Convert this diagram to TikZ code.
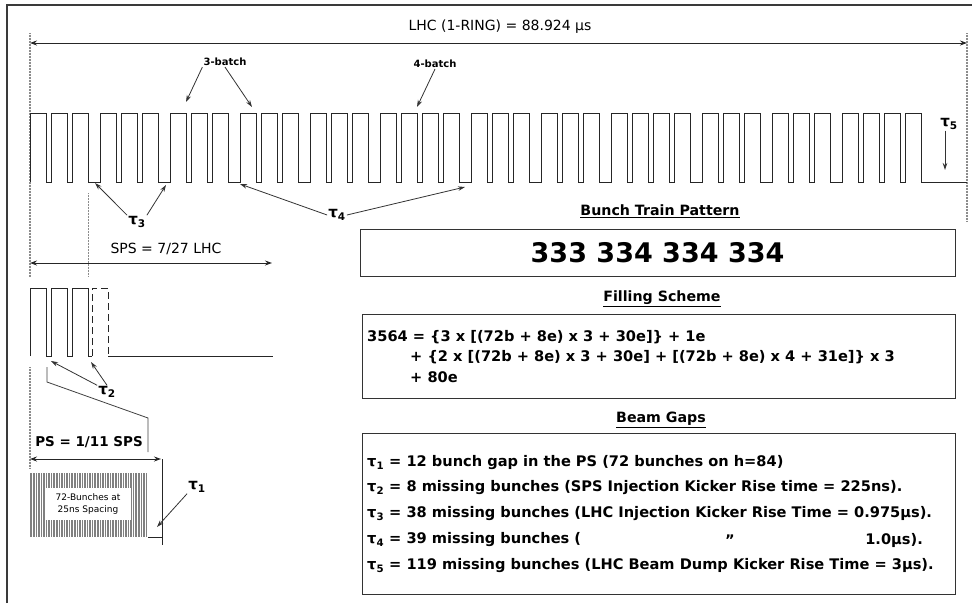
\documentclass[tikz,border=0pt]{standalone}
\usepackage{fontspec}
\setmainfont{DejaVu Sans}
\usepackage{tikz}
\usetikzlibrary{arrows.meta,positioning}
\definecolor{framegray}{HTML}{3A3A3A}
\definecolor{guidegray}{HTML}{8C8C8C}
\definecolor{bunchgray}{HTML}{808080}

\tikzset{
  pulse/.style={draw=black!85,line width=0.9pt},
  guide/.style={draw=guidegray,line width=1.3pt,dash pattern=on 1pt off 0.5pt},
  zoomline/.style={draw=black!75,line width=0.8pt},
  dimarrow/.style={draw=black!85,line width=0.9pt,
    {Stealth[length=7pt,width=5pt]}-{Stealth[length=7pt,width=5pt]}},
  callout/.style={draw=black!80,line width=0.8pt,-{Stealth[length=7pt,width=4.5pt]}},
  tag/.style={inner sep=1pt,font=\bfseries\fontsize{10}{12}\selectfont},
  taulabel/.style={inner sep=1pt,font=\bfseries\fontsize{15}{17}\selectfont},
  heading/.style={inner sep=1pt,font=\bfseries\fontsize{14.2}{16}\selectfont},
  infobox/.style={draw=black!80,line width=1pt},
  infotext/.style={anchor=west,inner sep=0pt,font=\bfseries\fontsize{14.6}{16}\selectfont},
}
\newcommand{\gap}[1]{τ\textsubscript{#1}}

\begin{document}
\begin{tikzpicture}[x=1pt,y=-1pt]
  \useasboundingbox (0,0) rectangle (972,603);
  \draw[framegray,line width=1.2pt] (7,603) -- (7,5) -- (972,5);

  % one LHC ring
  \coordinate (lhcL) at (30,43);
  \coordinate (lhcR) at (967,43);
  \node[font=\fontsize{14}{16}\selectfont] (lhc) at (500,27) {LHC (1-RING) = 88.924 µs};
  \draw[dimarrow] (lhcL) -- (lhcR);
  \draw[guide] (30,33) -- (30,277);
  \draw[guide] (967,33) -- (967,222);
  \draw[guide] (88.5,193) -- (88.5,277);

  % bunch trains, 333 334 334 334
  \draw[pulse] (30,182)
    foreach \x in {30,51,72,100,121,142,170,191,212,240,261,282,310,331,352,
                   380,401,422,443,471,492,513,541,562,583,611,632,653,674,
                   702,723,744,772,793,814,842,863,884,905}
    { -- (\x,182) -- (\x,113) -- ++(16.5,0) -- ++(0,69) } -- (967,182);

  \node[tag] (three) at (225,62) {3-batch};
  \node[tag] (four) at (435,64) {4-batch};
  \coordinate (threeA) at (186,102);
  \coordinate (threeB) at (252,107);
  \coordinate (fourA) at (417,107);
  \draw[callout] (three.south west) -- (threeA);
  \draw[callout] (three.south) -- (threeB);
  \draw[callout] (four.south) -- (fourA);

  \node[taulabel] (tau3) at (137,222) {\gap{3}};
  \node[taulabel] (tau4) at (337,215) {\gap{4}};
  \node[taulabel] (tau5) at (949,124) {\gap{5}};
  \coordinate (gapA) at (95,183);
  \coordinate (gapB) at (166,185);
  \coordinate (gapC) at (240,184);
  \coordinate (gapD) at (465,187);
  \coordinate (dump) at (945,170);
  \draw[callout] (tau3.north west) -- (gapA);
  \draw[callout] (tau3.north east) -- (gapB);
  \draw[callout] (tau4.west) -- (gapC);
  \draw[callout] (tau4.east) -- (gapD);
  \draw[callout] (tau5.south -| dump) -- (dump);

  % SPS
  \coordinate (spsL) at (30,263);
  \coordinate (spsR) at (272,263);
  \node[font=\fontsize{14}{16}\selectfont] (sps) at (166,249) {SPS = 7/27 LHC};
  \draw[dimarrow] (spsL) -- (spsR);
  \draw[pulse] (30,356)
    foreach \x in {30,51,72} { -- (\x,356) -- (\x,288) -- ++(16.5,0) -- ++(0,68) } -- (92,356);
  \draw[pulse,dash pattern=on 7pt off 4pt] (92,356) -- (92,288) -- (108,288) -- (108,356);
  \draw[pulse] (108,356) -- (273,356);

  \node[taulabel] (tau2) at (107,392) {\gap{2}};
  \coordinate (kickA) at (51,361);
  \coordinate (kickB) at (91,362);
  \draw[callout] (tau2.north west) -- (kickA);
  \draw[callout] (tau2.north) -- (kickB);

  % zoom on one PS batch
  \draw[guide] (30,367) -- (30,468);
  \draw[zoomline] (47,367) -- (47,382) -- (148,418) -- (148,452);

  % PS
  \coordinate (psL) at (30,459);
  \coordinate (psR) at (161,459);
  \node[font=\bfseries\fontsize{13.5}{16}\selectfont] (ps) at (89,442) {PS = 1/11 SPS};
  \draw[dimarrow] (psL) -- (psR);
  \draw[pulse] (162,459) -- (162,545);
  \foreach \i in {0,...,71}
    \draw[bunchgray,line width=0.9pt] (30+\i*1.64,473) -- ++(0,64);
  \draw[pulse] (148,537) -- (162,537);
  \node[fill=white,inner sep=0pt,minimum width=86pt,minimum height=32pt,align=center,
        font=\fontsize{9}{11.5}\selectfont] (batch) at (88,504) {72-Bunches at\\25ns Spacing};
  \node[taulabel] (tau1) at (197,487) {\gap{1}};
  \coordinate (psgap) at (157,527);
  \draw[callout] (tau1.south west) -- (psgap);

  % bunch train pattern
  \node[heading] (hpat) at (660,211) {\underline{Bunch Train Pattern}};
  \node[infobox,minimum width=595pt,minimum height=47pt,
        font=\bfseries\fontsize{27}{30}\selectfont] (pat) at (657.5,252.5) {333 334 334 334};

  % filling scheme
  \node[heading] (hfill) at (662,299) {\underline{Filling Scheme}};
  \node[infobox,minimum width=593pt,minimum height=84pt] (fill) at (658.5,356) {};
  \node[infotext] (f1) at (367,337) {3564 = \{3 x [(72b + 8e) x 3 + 30e]\} + 1e};
  \node[infotext] (f2) at (410,357) {+ \{2 x [(72b + 8e) x 3 + 30e] + [(72b + 8e) x 4 + 31e]\} x 3};
  \node[infotext] (f3) at (410,377) {+ 80e};

  % beam gaps
  \node[heading] (hgap) at (661,420) {\underline{Beam Gaps}};
  \node[infobox,minimum width=593pt,minimum height=161pt] (gaps) at (658.5,513.5) {};
  \node[infotext] (g1) at (367,463) {\gap{1} = 12 bunch gap in the PS (72 bunches on h=84)};
  \node[infotext] (g2) at (367,488) {\gap{2} = 8 missing bunches (SPS Injection Kicker Rise time = 225ns).};
  \node[infotext] (g3) at (367,514) {\gap{3} = 38 missing bunches (LHC Injection Kicker Rise Time = 0.975µs).};
  \node[infotext] (g4) at (367,540) {\gap{4} = 39 missing bunches (};
  \node[infotext,anchor=center] (g4q) at (730,540) {''};
  \node[infotext,anchor=east] (g4e) at (923,540) {1.0µs).};
  \node[infotext] (g5) at (367,566) {\gap{5} = 119 missing bunches (LHC Beam Dump Kicker Rise Time = 3µs).};
\end{tikzpicture}
\end{document}
